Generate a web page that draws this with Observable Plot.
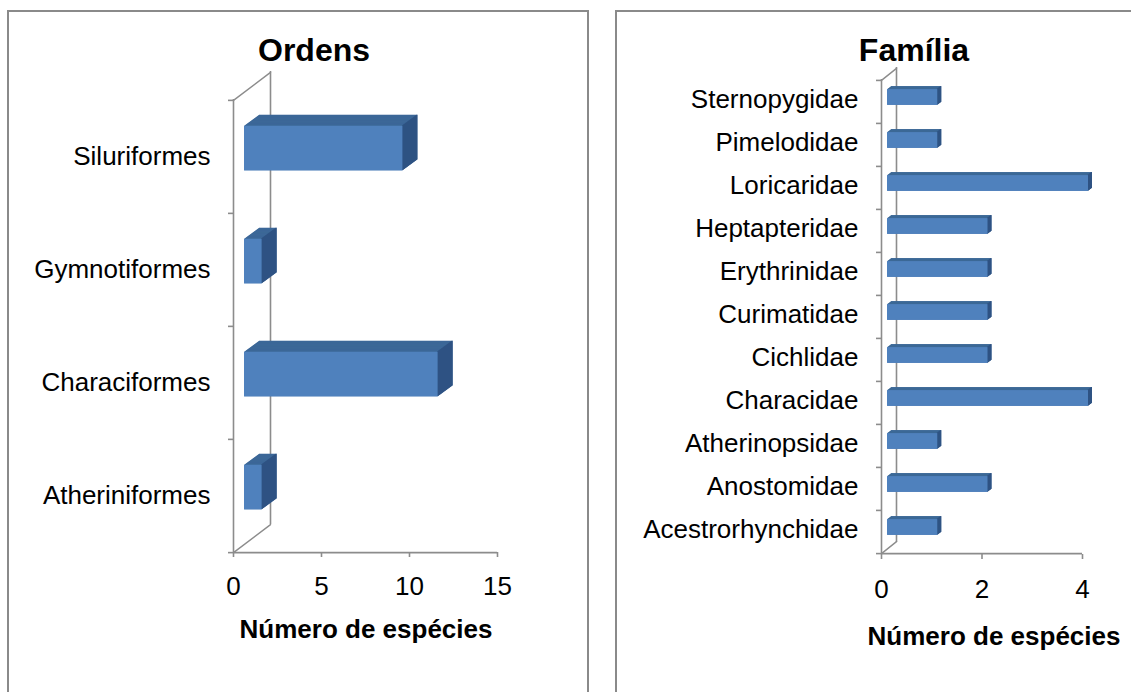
<!DOCTYPE html>
<html>
<head>
<meta charset="utf-8">
<script src="https://cdn.jsdelivr.net/npm/d3@7"></script>
<script src="https://cdn.jsdelivr.net/npm/@observablehq/plot@0.6"></script>
<style>
  html, body { margin: 0; padding: 0; background: #fff; }
  #page { position: relative; width: 1131px; height: 692px; overflow: hidden; font-family: "Liberation Sans", Arial, sans-serif; }
  .panel { position: absolute; border: 2px solid #8a8a8a; box-sizing: border-box; background: transparent; }
  .title { position: absolute; font-weight: bold; font-size: 32px; line-height: 32px; white-space: nowrap; transform: translateX(-50%); color: #000; }
  .xlabel { position: absolute; font-weight: bold; font-size: 26px; line-height: 26px; white-space: nowrap; transform: translateX(-50%); color: #000; }
  .chart { position: absolute; left: 0; top: 0; }
</style>
</head>
<body>
<div id="page">
  <div class="panel" style="left:7px; top:10px; width:582px; height:720px;"></div>
  <div class="panel" style="left:615px; top:10px; width:600px; height:720px;"></div>
  <div class="title" style="left:314px; top:34px;">Ordens</div>
  <div class="title" style="left:914px; top:34px;">Família</div>
  <div class="xlabel" style="left:366px; top:616px;">Número de espécies</div>
  <div class="xlabel" style="left:994px; top:623px;">Número de espécies</div>
  <div id="left" class="chart"></div>
  <div id="right" class="chart"></div>
</div>
<script>
// ---- Data ----
const ordens = ["Siluriformes", "Gymnotiformes", "Characiformes", "Atheriniformes"];
const ordensValues = [9, 1, 11, 1];
const ordensTicks = [0, 5, 10, 15];

const familias = ["Sternopygidae", "Pimelodidae", "Loricaridae", "Heptapteridae", "Erythrinidae",
  "Curimatidae", "Cichlidae", "Characidae", "Atherinopsidae", "Anostomidae", "Acestrorhynchidae"];
const familiasValues = [1, 1, 4, 2, 2, 2, 2, 4, 1, 2, 1];
const familiasTicks = [0, 2, 4];

// ---- Styles ----
const W = 1131, H = 692;
const axisColor = "#8c8c8c";
const frontColor = "#4f81bd";
const topColor = "#3d6898";
const sideColor = "#2f5383";
const fontFamily = "'Liberation Sans', Arial, sans-serif";

const lineShape = {draw(context, l) { context.moveTo(0, 0); context.lineTo(0, -l); }};

function panel(cfg) {
  const data = cfg.names.map((name, i) => ({name, value: cfg.values[i]}));
  const n = cfg.names.length;
  const bw = (cfg.y1 - cfg.y0) / n;
  const inset = (bw - cfg.barH) / 2;
  const marks = [];

  // back wall + diagonals (depth)
  const len = Math.hypot(cfg.wallX, cfg.wallY);
  const ang = Math.atan2(cfg.wallX, -cfg.wallY) * 180 / Math.PI;
  marks.push(Plot.ruleX([0], {stroke: axisColor, strokeWidth: 1.6, dx: cfg.wallX, dy: cfg.wallY}));
  marks.push(Plot.vector([cfg.names[0]], {x: 0, y: d => d, dy: -bw / 2, length: len, rotate: ang, anchor: "start", shape: lineShape, stroke: axisColor, strokeWidth: 1.4}));
  marks.push(Plot.vector([cfg.names[n - 1]], {x: 0, y: d => d, dy: bw / 2, length: len, rotate: ang, anchor: "start", shape: lineShape, stroke: axisColor, strokeWidth: 1.4}));

  // 3D bars: extrusion (top face), side face, front face
  const steps = Math.ceil(cfg.depthX * 2);
  for (let k = steps; k >= 1; k--) {
    const t = k / steps;
    marks.push(Plot.barX(data, {x: "value", y: "name", fill: topColor, insetTop: inset, insetBottom: inset,
      dx: cfg.frontX + cfg.depthX * t, dy: cfg.frontY + cfg.depthY * t}));
  }
  for (let k = 1; k <= steps; k++) {
    const t = k / steps;
    marks.push(Plot.barX(data, {x1: "value", x2: "value", y: "name", fill: sideColor, insetTop: inset, insetBottom: inset,
      insetLeft: -1, dx: cfg.frontX + cfg.depthX * t, dy: cfg.frontY + cfg.depthY * t}));
  }
  marks.push(Plot.barX(data, {x: "value", y: "name", fill: frontColor, insetTop: inset, insetBottom: inset,
    dx: cfg.frontX, dy: cfg.frontY}));

  // front axes
  marks.push(Plot.ruleX([0], {stroke: axisColor, strokeWidth: 1.6}));
  marks.push(Plot.ruleY([cfg.names[n - 1]], {y: d => d, dy: bw / 2, x1: 0, x2: cfg.ticks[cfg.ticks.length - 1], stroke: axisColor, strokeWidth: 1.6}));
  marks.push(Plot.ruleY(cfg.names, {y: d => d, dy: -bw / 2, x1: 0, x2: 0, insetLeft: -5, stroke: axisColor, strokeWidth: 1.6}));
  marks.push(Plot.ruleY([cfg.names[n - 1]], {y: d => d, dy: bw / 2, x1: 0, x2: 0, insetLeft: -5, stroke: axisColor, strokeWidth: 1.6}));
  marks.push(Plot.axisY({tickSize: 0, tickPadding: cfg.yPad, fontSize: 26, fill: "#000", label: null, dy: cfg.labelDy}));
  marks.push(Plot.axisX({ticks: cfg.ticks, tickSize: 5, tickPadding: cfg.xPad, fontSize: 26, stroke: axisColor, strokeWidth: 1.6, fill: "#000", label: null, tickFormat: d => String(d)}));

  return Plot.plot({
    width: W,
    height: H,
    marginLeft: cfg.x0,
    marginRight: W - cfg.x1,
    marginTop: cfg.y0,
    marginBottom: H - cfg.y1,
    style: {background: "transparent", overflow: "visible", fontFamily, fontSize: "26px", color: "#000"},
    x: {domain: [cfg.ticks[0], cfg.ticks[cfg.ticks.length - 1]], axis: null},
    y: {domain: cfg.names, padding: 0, axis: null},
    marks
  });
}

document.getElementById("left").append(panel({
  names: ordens, values: ordensValues, ticks: ordensTicks,
  x0: 233, x1: 497, y0: 99, y1: 552,
  wallX: 37, wallY: -28, frontX: 11, frontY: -8.4, depthX: 15, depthY: -11, barH: 45,
  yPad: 23, xPad: 19, labelDy: 0
}));

document.getElementById("right").append(panel({
  names: familias, values: familiasValues, ticks: familiasTicks,
  x0: 881, x1: 1082, y0: 79, y1: 554,
  wallX: 15, wallY: -12, frontX: 6, frontY: -4.5, depthX: 4, depthY: -3, barH: 16,
  yPad: 23, xPad: 20, labelDy: -2
}));
</script>
</body>
</html>
